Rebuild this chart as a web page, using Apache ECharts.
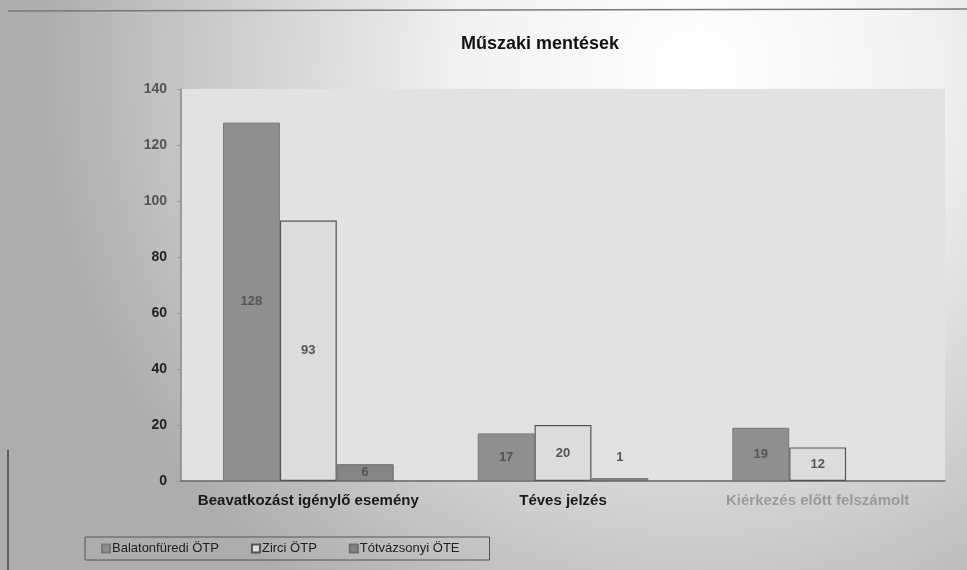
<!DOCTYPE html>
<html>
<head>
<meta charset="utf-8">
<script src="https://cdn.jsdelivr.net/npm/echarts@6/dist/echarts.min.js"></script>
<style>
html,body{margin:0;padding:0;background:#fff;}
#chart{width:967px;height:570px;}
</style>
</head>
<body>
<div id="chart"></div>
<script>
const categories = ['Beavatkozást igénylő esemény', 'Téves jelzés', 'Kiérkezés előtt felszámolt'];
const seriesNames = ['Balatonfüredi ÖTP', 'Zirci ÖTP', 'Tótvázsonyi ÖTE'];
const balatonfuredi = [128, 17, 19];
const zirci = [93, 20, 12];
const totvazsonyi = [6, 1, null];
const yTicks = [0, 20, 40, 60, 80, 100, 120, 140];

const chart = echarts.init(document.getElementById('chart'));

const labelStyle = {
  show: true,
  position: 'inside',
  color: '#555',
  fontFamily: 'Liberation Sans',
  fontWeight: 'bold',
  fontSize: 13
};

chart.setOption({
  animation: false,
  backgroundColor: {
    type: 'radial', x: 0.72, y: 0.12, r: 1.15,
    colorStops: [
      {offset: 0, color: '#ffffff'},
      {offset: 0.35, color: '#f2f2f2'},
      {offset: 0.75, color: '#cacaca'},
      {offset: 1, color: '#adadad'}
    ]
  },
  title: {
    text: 'Műszaki mentések',
    left: 535,
    top: 30,
    textAlign: 'center',
    textStyle: {fontFamily: 'Liberation Sans', fontWeight: 'bold', fontSize: 18, color: '#111'}
  },
  legend: {
    data: seriesNames,
    left: 85,
    top: 537,
    orient: 'horizontal',
    icon: 'rect',
    itemWidth: 8,
    itemHeight: 8,
    itemGap: 32,
    padding: [5, 30, 5, 16],
    borderColor: '#555',
    borderWidth: 1,
    textStyle: {fontFamily: 'Liberation Sans', fontSize: 13, color: '#222', padding: [0, 0, 0, -3]}
  },
  grid: {
    left: 181, right: 22, top: 89, bottom: 89,
    show: true,
    backgroundColor: '#e2e2e2',
    borderWidth: 0
  },
  xAxis: {
    type: 'category',
    data: categories,
    axisLine: {lineStyle: {color: '#666', width: 1.5}},
    axisTick: {show: false},
    axisLabel: {
      interval: 0,
      margin: 12,
      fontFamily: 'Liberation Sans',
      fontWeight: 'bold',
      fontSize: 15,
      color: function (v) { return v === categories[2] ? '#9a9a9a' : '#1a1a1a'; }
    }
  },
  yAxis: {
    type: 'value',
    min: 0, max: 140, interval: 20,
    splitLine: {show: false},
    axisLine: {show: true, lineStyle: {color: '#888', width: 1.5}},
    axisTick: {show: true, length: 4, lineStyle: {color: '#999'}},
    axisLabel: {
      margin: 14,
      fontFamily: 'Liberation Sans',
      fontWeight: 'bold',
      fontSize: 14,
      color: function (v) { return v >= 100 ? '#555' : '#222'; },
      formatter: function (v) { return yTicks.indexOf(v) >= 0 ? String(v) : ''; }
    }
  },
  series: [
    {
      name: seriesNames[0], type: 'bar', data: balatonfuredi,
      barGap: '0%', barCategoryGap: '33%',
      itemStyle: {color: '#8f8f8f', borderColor: '#7a7a7a', borderWidth: 1},
      label: labelStyle
    },
    {
      name: seriesNames[1], type: 'bar', data: zirci,
      itemStyle: {color: '#dcdcdc', borderColor: '#555', borderWidth: 1.2},
      label: labelStyle
    },
    {
      name: seriesNames[2], type: 'bar', data: totvazsonyi.map(function (v) {
        return v === 1 ? {value: v, label: {position: 'top', distance: 14}} : v;
      }),
      itemStyle: {color: '#858585', borderColor: '#6e6e6e', borderWidth: 1},
      label: labelStyle
    }
  ],
  graphic: [
    {type: 'line', shape: {x1: 8, y1: 11, x2: 967, y2: 9}, style: {stroke: '#777', lineWidth: 1.5}},
    {type: 'line', shape: {x1: 8, y1: 450, x2: 8, y2: 570}, style: {stroke: '#444', lineWidth: 1.5}}
  ]
});
</script>
</body>
</html>
